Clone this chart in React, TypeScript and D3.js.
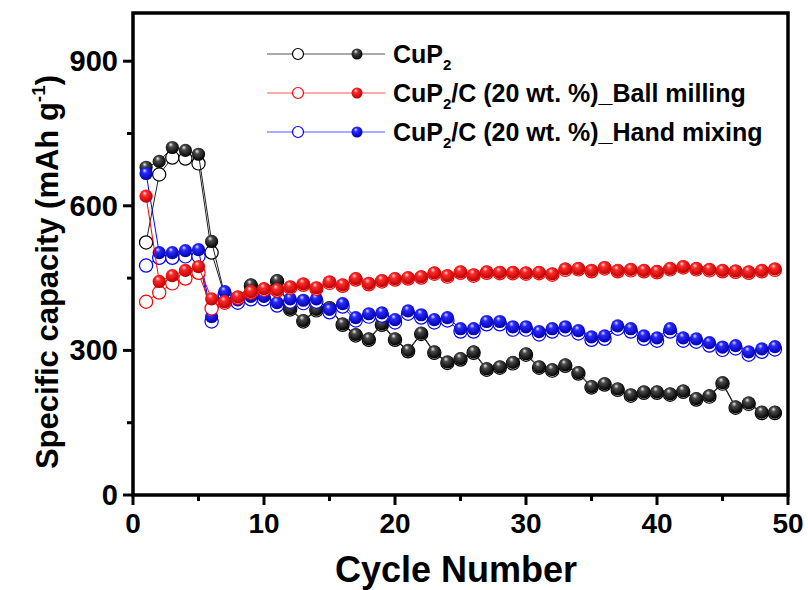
import React from "react";
import * as d3 from "d3";

const cycles = d3.range(1, 50);

const cup2Discharge = [680,692,721,715,707,526,415,410,436,425,445,387,362,385,389,355,333,324,355,324,300,336,297,276,283,297,262,266,275,293,266,260,270,254,225,231,220,208,214,214,210,216,200,206,233,183,191,172,172];
const cup2Charge = [524,665,700,698,688,503,413,408,434,423,443,385,360,383,387,353,331,322,353,322,298,334,295,274,281,295,260,264,273,291,264,258,268,252,223,229,218,206,212,212,208,214,198,204,231,181,189,170,170];

const ballDischarge = [620,443,455,466,474,407,401,411,422,428,426,432,438,430,442,436,449,439,445,449,451,453,461,455,463,457,463,462,462,461,462,459,469,470,466,472,466,468,466,464,470,474,470,468,466,465,463,466,469];
const ballCharge = [401,420,439,449,461,387,399,409,420,426,424,430,436,428,440,434,447,437,443,447,449,451,459,453,461,455,461,460,460,459,460,457,467,468,464,470,464,466,464,462,468,472,468,466,464,463,461,464,467];

const handDischarge = [667,503,503,507,509,370,422,405,412,412,399,407,404,407,385,397,368,376,378,364,382,374,364,368,345,345,360,360,349,349,339,345,349,341,328,330,351,345,330,326,345,326,324,316,307,310,297,303,308];
const handCharge = [476,492,492,495,495,360,416,399,406,406,393,401,398,401,379,391,362,370,372,358,376,368,358,362,339,339,354,354,343,343,333,339,343,335,322,324,345,339,324,320,339,320,318,310,301,304,291,297,302];

const xTicks = [0, 10, 20, 30, 40, 50];
const xMinor = [5, 15, 25, 35, 45];
const yTicks = [0, 300, 600, 900];
const yMinor = [150, 450, 750];

const seriesDraw = [
  { key: "cup2", color: "#000000", line: "#222222", charge: cup2Charge, discharge: cup2Discharge, grad: ["#f0f0f0", "#4a4a4a", "#000000"] },
  { key: "hand", color: "#0000ff", line: "#0000ff", charge: handCharge, discharge: handDischarge, grad: ["#e0e0ff", "#2a2aff", "#0000a8"] },
  { key: "ball", color: "#ff0000", line: "#ff0000", charge: ballCharge, discharge: ballDischarge, grad: ["#ffe0e0", "#ff2a2a", "#b80000"] },
];

const legendItems = [
  { key: "cup2", color: "#000000", line: "#555555", pre: "CuP", post: "" },
  { key: "ball", color: "#ff0000", line: "#ff5555", pre: "CuP", post: "/C (20 wt. %)_Ball milling" },
  { key: "hand", color: "#0000ff", line: "#5555ff", pre: "CuP", post: "/C (20 wt. %)_Hand mixing" },
];

const FONT = "'Liberation Sans', Arial, Helvetica, sans-serif";

export default function App() {
  const W = 808, H = 590;
  const x = d3.scaleLinear().domain([0, 50]).range([133, 788]);
  const y = d3.scaleLinear().domain([0, 1000]).range([495, 13]);
  const line = (vals: number[]) =>
    d3.line<number>().x((_, i) => x(cycles[i])).y((v) => y(v))(vals) || "";
  const R = 6.6;

  return (
    <svg width={W} height={H} style={{ position: "absolute", left: 0, top: 0, background: "#fff" }} fontFamily={FONT}>
      <defs>
        {seriesDraw.map((s) => (
          <radialGradient key={s.key} id={`g-${s.key}`} cx="0.45" cy="0.4" r="0.6" fx="0.38" fy="0.27">
            <stop offset="0" stopColor={s.grad[0]} />
            <stop offset="0.3" stopColor={s.grad[1]} />
            <stop offset="1" stopColor={s.grad[2]} />
          </radialGradient>
        ))}
      </defs>
      <rect x={0} y={0} width={W} height={H} fill="#fff" />

      {seriesDraw.map((s) => (
        <g key={s.key}>
          <path d={line(s.charge)} fill="none" stroke={s.line} strokeWidth={1} />
          {s.charge.map((v, i) => (
            <circle key={"c" + i} cx={x(cycles[i])} cy={y(v)} r={R} fill="#fff" stroke={s.color} strokeWidth={1.2} />
          ))}
          <path d={line(s.discharge)} fill="none" stroke={s.line} strokeWidth={1} />
          {s.discharge.map((v, i) => (
            <circle key={"d" + i} cx={x(cycles[i])} cy={y(v)} r={R} fill={`url(#g-${s.key})`} />
          ))}
        </g>
      ))}

      {/* frame */}
      <rect x={133} y={13} width={655} height={482} fill="none" stroke="#000" strokeWidth={3.5} />

      {/* x ticks */}
      {xTicks.map((t) => (
        <g key={"xt" + t}>
          <line x1={x(t)} x2={x(t)} y1={495} y2={505} stroke="#000" strokeWidth={3} />
          <text x={x(t)} y={533} textAnchor="middle" fontSize={28} fontWeight="bold">{t}</text>
        </g>
      ))}
      {xMinor.map((t) => (
        <line key={"xm" + t} x1={x(t)} x2={x(t)} y1={495} y2={501} stroke="#000" strokeWidth={3} />
      ))}
      {/* y ticks */}
      {yTicks.map((t) => (
        <g key={"yt" + t}>
          <line x1={123} x2={133} y1={y(t)} y2={y(t)} stroke="#000" strokeWidth={3} />
          <text x={118} y={y(t) + 10} textAnchor="end" fontSize={29} fontWeight="bold">{t}</text>
        </g>
      ))}
      {yMinor.map((t) => (
        <line key={"ym" + t} x1={127} x2={133} y1={y(t)} y2={y(t)} stroke="#000" strokeWidth={3} />
      ))}

      {/* axis titles */}
      <text x={456} y={582} textAnchor="middle" fontSize={36} fontWeight="bold">Cycle Number</text>
      <text transform="translate(58,272) rotate(-90)" textAnchor="middle" fontSize={31} fontWeight="bold">
        Specific capacity (mAh g<tspan fontSize={19} dy={-13}>-1</tspan><tspan dy={13}>)</tspan>
      </text>

      {/* legend */}
      {legendItems.map((l, i) => {
        const ly = 54 + i * 39;
        return (
          <g key={"lg" + l.key}>
            <line x1={267} x2={385} y1={ly} y2={ly} stroke={l.line} strokeWidth={1} />
            <circle cx={298} cy={ly} r={5.5} fill="#fff" stroke={l.color} strokeWidth={1.2} />
            <circle cx={357} cy={ly} r={5.5} fill={`url(#g-${l.key})`} />
            <text x={393} y={ly + 9} fontSize={25} fontWeight="bold">
              {l.pre}
              <tspan fontSize={15} dy={7}>2</tspan>
              {l.post ? <tspan dy={-7}>{l.post}</tspan> : null}
            </text>
          </g>
        );
      })}
    </svg>
  );
}
